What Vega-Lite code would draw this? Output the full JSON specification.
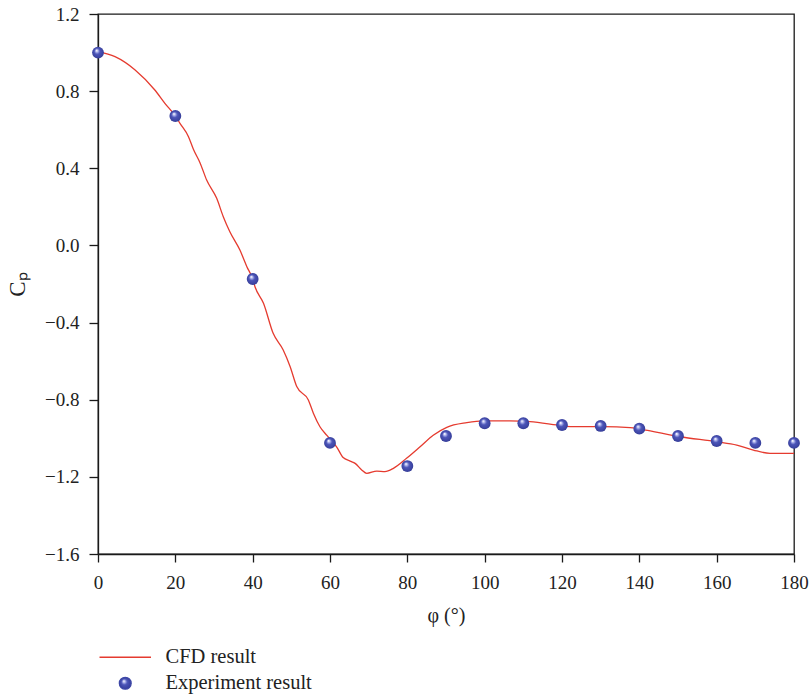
{
  "$schema": "https://vega.github.io/schema/vega-lite/v6.json",
  "width": 696,
  "height": 540,
  "autosize": {"type": "none"},
  "padding": {"left": 98, "top": 14, "right": 15, "bottom": 140},
  "config": {
    "font": "Liberation Serif",
    "view": {"stroke": "#1a1a1a", "strokeWidth": 1.3},
    "axis": {
      "grid": false,
      "domainColor": "#1a1a1a",
      "domainWidth": 1.3,
      "tickColor": "#1a1a1a",
      "tickWidth": 1.3,
      "labelFont": "Liberation Serif",
      "labelFontSize": 19,
      "labelColor": "#222222",
      "titleFont": "Liberation Serif",
      "titleFontSize": 20,
      "titleFontWeight": "normal",
      "titleColor": "#222222"
    }
  },
  "datasets": {
    "cfd": [
      {"phi": 0, "cp": 1.005, "series": "CFD result"},
      {"phi": 4.4, "cp": 0.979, "series": "CFD result"},
      {"phi": 9.6, "cp": 0.91, "series": "CFD result"},
      {"phi": 14.7, "cp": 0.806, "series": "CFD result"},
      {"phi": 17.3, "cp": 0.737, "series": "CFD result"},
      {"phi": 20, "cp": 0.671, "series": "CFD result"},
      {"phi": 21.2, "cp": 0.633, "series": "CFD result"},
      {"phi": 23.4, "cp": 0.564, "series": "CFD result"},
      {"phi": 24.7, "cp": 0.497, "series": "CFD result"},
      {"phi": 26.4, "cp": 0.428, "series": "CFD result"},
      {"phi": 28.1, "cp": 0.339, "series": "CFD result"},
      {"phi": 30.7, "cp": 0.244, "series": "CFD result"},
      {"phi": 32.4, "cp": 0.149, "series": "CFD result"},
      {"phi": 34.1, "cp": 0.071, "series": "CFD result"},
      {"phi": 36.7, "cp": -0.024, "series": "CFD result"},
      {"phi": 38.5, "cp": -0.11, "series": "CFD result"},
      {"phi": 40, "cp": -0.174, "series": "CFD result"},
      {"phi": 40.6, "cp": -0.214, "series": "CFD result"},
      {"phi": 42.8, "cp": -0.3, "series": "CFD result"},
      {"phi": 45.3, "cp": -0.456, "series": "CFD result"},
      {"phi": 47.9, "cp": -0.542, "series": "CFD result"},
      {"phi": 49.7, "cp": -0.629, "series": "CFD result"},
      {"phi": 51.4, "cp": -0.732, "series": "CFD result"},
      {"phi": 54.4, "cp": -0.801, "series": "CFD result"},
      {"phi": 55.7, "cp": -0.87, "series": "CFD result"},
      {"phi": 57.4, "cp": -0.94, "series": "CFD result"},
      {"phi": 59.2, "cp": -0.985, "series": "CFD result"},
      {"phi": 61.7, "cp": -1.044, "series": "CFD result"},
      {"phi": 63.4, "cp": -1.1, "series": "CFD result"},
      {"phi": 65.2, "cp": -1.118, "series": "CFD result"},
      {"phi": 66.5, "cp": -1.13, "series": "CFD result"},
      {"phi": 68.2, "cp": -1.164, "series": "CFD result"},
      {"phi": 69.5, "cp": -1.182, "series": "CFD result"},
      {"phi": 72.1, "cp": -1.17, "series": "CFD result"},
      {"phi": 74.2, "cp": -1.173, "series": "CFD result"},
      {"phi": 76.4, "cp": -1.156, "series": "CFD result"},
      {"phi": 79.8, "cp": -1.104, "series": "CFD result"},
      {"phi": 83.3, "cp": -1.044, "series": "CFD result"},
      {"phi": 86.7, "cp": -0.984, "series": "CFD result"},
      {"phi": 90.2, "cp": -0.943, "series": "CFD result"},
      {"phi": 95.4, "cp": -0.919, "series": "CFD result"},
      {"phi": 99.6, "cp": -0.91, "series": "CFD result"},
      {"phi": 106.5, "cp": -0.91, "series": "CFD result"},
      {"phi": 111.7, "cp": -0.914, "series": "CFD result"},
      {"phi": 118.6, "cp": -0.931, "series": "CFD result"},
      {"phi": 122.1, "cp": -0.94, "series": "CFD result"},
      {"phi": 130.7, "cp": -0.94, "series": "CFD result"},
      {"phi": 137.6, "cp": -0.945, "series": "CFD result"},
      {"phi": 140.2, "cp": -0.952, "series": "CFD result"},
      {"phi": 150.5, "cp": -0.992, "series": "CFD result"},
      {"phi": 160, "cp": -1.018, "series": "CFD result"},
      {"phi": 165.2, "cp": -1.035, "series": "CFD result"},
      {"phi": 169.5, "cp": -1.061, "series": "CFD result"},
      {"phi": 173.8, "cp": -1.078, "series": "CFD result"},
      {"phi": 180, "cp": -1.078, "series": "CFD result"}
    ],
    "exp": [
      {"phi": 0, "cp": 1.0},
      {"phi": 20, "cp": 0.671},
      {"phi": 40, "cp": -0.174},
      {"phi": 60, "cp": -1.024},
      {"phi": 80, "cp": -1.144},
      {"phi": 90, "cp": -0.988},
      {"phi": 100, "cp": -0.922},
      {"phi": 110, "cp": -0.922},
      {"phi": 120, "cp": -0.931},
      {"phi": 130, "cp": -0.936},
      {"phi": 140, "cp": -0.95},
      {"phi": 150, "cp": -0.988},
      {"phi": 160, "cp": -1.014},
      {"phi": 170, "cp": -1.024},
      {"phi": 180, "cp": -1.024}
    ]
  },
  "layer": [
    {
      "data": {"name": "cfd"},
      "mark": {"type": "line", "interpolate": "monotone", "strokeWidth": 1.3},
      "encoding": {
        "x": {
          "field": "phi",
          "type": "quantitative",
          "scale": {"domain": [0, 180], "nice": false},
          "axis": {
            "title": "φ (°)",
            "values": [0, 10, 20, 30, 40, 50, 60, 70, 80, 90, 100, 110, 120, 130, 140, 150, 160, 170, 180],
            "format": "d",
            "labelExpr": "datum.value % 20 === 0 ? datum.label : ''",
            "tickSize": {"condition": {"test": "datum.value % 20 === 0", "value": 8}, "value": 4},
            "labelPadding": 11,
            "titlePadding": 13,
            "labelFlush": false,
            "labelOverlap": false
          }
        },
        "y": {
          "field": "cp",
          "type": "quantitative",
          "scale": {"domain": [-1.6, 1.2], "nice": false, "zero": false},
          "axis": {
            "title": "Cₚ",
            "titleFontSize": 23,
            "titlePadding": 15,
            "values": [-1.6, -1.4, -1.2, -1, -0.8, -0.6, -0.4, -0.2, 0, 0.2, 0.4, 0.6, 0.8, 1, 1.2],
            "format": ".1f",
            "labelExpr": "abs(round(datum.value * 10)) % 4 === 0 ? datum.label : ''",
            "tickSize": {"condition": {"test": "abs(round(datum.value * 10)) % 4 === 0", "value": 9}, "value": 4},
            "labelPadding": 10,
            "labelFlush": false,
            "labelOverlap": false
          }
        },
        "color": {
          "field": "series",
          "type": "nominal",
          "scale": {"domain": ["CFD result", "Experiment result"], "range": ["#e53b2f", "#3d47a6"]},
          "legend": {
            "orient": "none",
            "legendX": 17,
            "legendY": 633,
            "title": null,
            "padding": 0,
            "symbolType": "stroke",
            "symbolSize": 2650,
            "symbolStrokeWidth": 1.3,
            "labelFont": "Liberation Serif",
            "labelFontSize": 20.5,
            "labelColor": "#222222",
            "labelOffset": 30,
            "labelLimit": 300,
            "rowPadding": 5,
            "encode": {
              "symbols": {
                "update": {
                  "shape": {"signal": "datum.value === 'CFD result' ? 'stroke' : 'circle'"},
                  "size": {"signal": "datum.value === 'CFD result' ? 2650 : 140"},
                  "fill": {"value": {"gradient": "radial", "x1": 0.38, "y1": 0.32, "r1": 0.02, "x2": 0.5, "y2": 0.5, "r2": 0.55, "stops": [{"offset": 0, "color": "#ffffff"}, {"offset": 0.16, "color": "#b4b9ee"}, {"offset": 0.42, "color": "#4c55b8"}, {"offset": 0.85, "color": "#3a42a0"}, {"offset": 1, "color": "#2e3588"}]}},
                  "stroke": {"signal": "datum.value === 'CFD result' ? '#e53b2f' : 'transparent'"},
                  "opacity": {"value": 1}
                }
              }
            }
          }
        }
      }
    },
    {
      "data": {"name": "exp"},
      "mark": {
        "type": "point",
        "filled": true,
        "size": 140,
        "opacity": 1,
        "fill": {"gradient": "radial", "x1": 0.38, "y1": 0.32, "r1": 0.02, "x2": 0.5, "y2": 0.5, "r2": 0.55, "stops": [{"offset": 0, "color": "#ffffff"}, {"offset": 0.16, "color": "#b4b9ee"}, {"offset": 0.42, "color": "#4c55b8"}, {"offset": 0.85, "color": "#3a42a0"}, {"offset": 1, "color": "#2e3588"}]}
      },
      "encoding": {
        "x": {"field": "phi", "type": "quantitative"},
        "y": {"field": "cp", "type": "quantitative"}
      }
    }
  ]
}
